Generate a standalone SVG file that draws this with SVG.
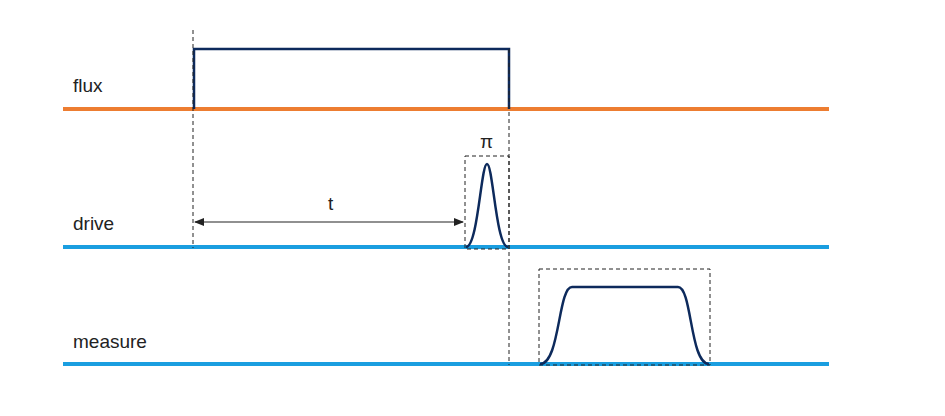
<svg xmlns="http://www.w3.org/2000/svg" width="945" height="416" viewBox="0 0 945 416">
<defs>
<style>
.lbl{font-family:"Liberation Sans",Arial,sans-serif;font-size:19px;fill:#222}
.dash{stroke:#222;stroke-width:1;stroke-dasharray:4,3;fill:none}
.pulse{stroke:#0d2a5c;stroke-width:2.5;fill:none}
</style>
<marker id="ar" markerWidth="10" markerHeight="8" refX="9" refY="4" orient="auto-start-reverse" markerUnits="userSpaceOnUse"><path d="M0,0 L10,4 L0,8 Z" fill="#222"/></marker>
</defs>
<rect width="945" height="416" fill="#fff"/>
<g id="flux">
<line x1="63" y1="109" x2="829" y2="109" stroke="#ed7d31" stroke-width="4"/>
<text class="lbl" x="73" y="92">flux</text>
<path class="pulse" d="M194,109 V49 H509 V109"/>
</g>
<g id="drive">
<line x1="63" y1="247" x2="829" y2="247" stroke="#1a9ee0" stroke-width="4"/>
<text class="lbl" x="73" y="230">drive</text>
<rect class="dash" x="465" y="156" width="44" height="93"/>
<path class="pulse" d="M466,247 C478,247 481,164 487,164 C493,164 496,247 508,247"/>
<text class="lbl" x="480" y="148">π</text>
</g>
<g id="measure">
<line x1="63" y1="364" x2="829" y2="364" stroke="#1a9ee0" stroke-width="4"/>
<text class="lbl" x="73" y="348">measure</text>
<rect class="dash" x="539" y="269" width="171" height="96"/>
<path class="pulse" d="M540,364 C560,364 558,287 572,287 H678 C692,287 690,364 709,364"/>
</g>
<g id="connectors">
<line class="dash" x1="193" y1="30" x2="193" y2="248"/>
<line class="dash" x1="509" y1="49" x2="509" y2="365"/>
<line x1="195" y1="222" x2="463" y2="222" stroke="#222" stroke-width="1.2" marker-start="url(#ar)" marker-end="url(#ar)"/>
<text class="lbl" x="328" y="210">t</text>
</g>
</svg>
